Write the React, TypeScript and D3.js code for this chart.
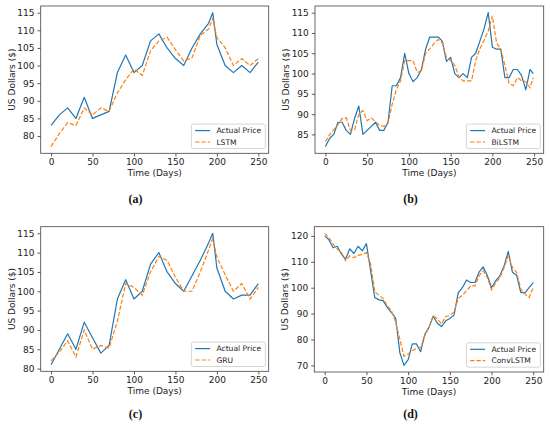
import React, { useEffect, useRef } from "react";
import * as d3 from "d3";

// sampling days
const daysTen = [0, 10, 20, 30, 40, 50, 60, 70, 80, 90, 100, 110, 120, 130, 140, 150, 160, 170, 180, 190, 195, 200, 210, 220, 230, 240, 250];
const daysFiveB = [0, 5, 10, 15, 20, 25, 30, 35, 40, 45, 50, 55, 60, 65, 70, 75, 80, 85, 90, 95, 100, 105, 110, 115, 120, 125, 130, 135, 140, 145, 150, 155, 160, 165, 170, 175, 180, 185, 190, 195, 200, 205, 210, 215, 220, 225, 230, 235, 240, 245, 249];
const daysFiveD = [0, 5, 10, 15, 20, 25, 30, 35, 40, 45, 50, 55, 60, 65, 70, 75, 80, 85, 90, 95, 100, 105, 110, 115, 120, 125, 130, 135, 140, 145, 150, 155, 160, 165, 170, 175, 180, 185, 190, 195, 200, 205, 210, 215, 220, 225, 230, 235, 240, 245, 250];

// (a) LSTM
const actualA = [83, 86, 88, 85, 91, 85, 86, 87, 98, 103, 98, 100, 107, 109, 105, 102, 100, 105, 109, 112, 115, 106, 100, 98, 100, 98, 101];
const lstmA = [77, 80.7, 83.8, 83, 88, 86, 88, 87, 92.2, 96, 99, 97.2, 104.2, 107, 108, 104.5, 101.3, 102.2, 108.5, 110.4, 113.3, 108, 105, 100, 102, 100, 102];

// (b) BiLSTM
const actualB = [82, 84, 85, 88, 88, 86, 85, 89, 92, 85, 86, 87, 88, 86, 86, 88, 97, 97, 99, 105, 100, 98, 99, 101, 106, 109, 109, 109, 108, 103, 104, 100, 99, 100, 99, 104, 105, 108, 111, 115, 106.5, 106, 106, 99, 99, 101, 101, 99.5, 96, 101, 100];
const bilstmB = [83.2, 84.9, 86.2, 87.4, 88.9, 89.1, 85.9, 86.2, 89.9, 90.9, 88.4, 89.1, 88.1, 87.2, 87, 87.8, 92.4, 96.1, 98.2, 103.2, 103.2, 103.2, 100.3, 100.7, 104.9, 106.1, 107.4, 108.4, 107.5, 104, 103.2, 102, 99.2, 98.2, 98.2, 98.2, 103.2, 106.1, 108.2, 110.5, 114.2, 107.6, 106, 102, 97.6, 97, 99, 98.2, 98, 96.5, 99];

// (c) GRU
const actualC = [81, 85, 89, 85, 92, 88, 84, 86, 98, 103, 98, 100, 107, 110, 105, 102, 100, 104, 108, 112.5, 115, 106, 100, 98, 99, 99, 102];
const gruC = [82, 84.3, 87.2, 83, 90, 85, 86, 85.3, 92.3, 102, 101, 99, 105, 109, 108, 103.6, 100, 100, 105, 110.7, 113.6, 108.8, 104.3, 100, 102, 98, 101];

// (d) ConvLSTM
const actualD = [120, 118.5, 115.4, 116, 113, 111, 115, 113.2, 116, 114.2, 117, 106.5, 96.2, 95.3, 95, 92.4, 90.4, 88.3, 75, 70, 72.2, 78.3, 78.3, 75.3, 82, 84.7, 89, 86.3, 85, 87.2, 88.1, 89.4, 98, 100, 103, 102, 102, 106, 108, 104.6, 100, 102.7, 104.6, 108.4, 114, 106, 104.8, 98.2, 98, 100, 102];
const convD = [121, 119.4, 116.8, 114.9, 113.6, 110.4, 112.3, 111.6, 112.5, 112.9, 113.6, 109.1, 98.4, 97.1, 95.8, 93, 91.1, 86.6, 80.2, 73.5, 74.4, 75.7, 76.6, 76.9, 81.5, 84.7, 89.2, 87.9, 86, 88.9, 89.2, 90.7, 95.8, 97.1, 98.8, 100.7, 100.7, 104.6, 106.5, 103.9, 99.2, 101.8, 103.9, 107.8, 112.3, 107.8, 105.9, 99.5, 97.5, 96.2, 100.1];

const xTicks = [0, 50, 100, 150, 200, 250];
const yTicksA = [80, 85, 90, 95, 100, 105, 110, 115];
const yTicksB = [85, 90, 95, 100, 105, 110, 115];
const yTicksD = [70, 80, 90, 100, 110, 120];

const panels = [
  { tag: "(a)", model: "LSTM", days: daysTen, actual: actualA, pred: lstmA, yTicks: yTicksA, ox: 0, frame: [40.7, 6, 268.7, 153.3], titleY: 202.5 },
  { tag: "(b)", model: "BiLSTM", days: daysFiveB, actual: actualB, pred: bilstmB, yTicks: yTicksB, ox: 275, frame: [315, 6, 543.7, 153.3], titleY: 202.5 },
  { tag: "(c)", model: "GRU", days: daysTen, actual: actualC, pred: gruC, yTicks: yTicksA, ox: 0, frame: [40.7, 226.7, 268.7, 371.3], titleY: 417.5 },
  { tag: "(d)", model: "ConvLSTM", days: daysFiveD, actual: actualD, pred: convD, yTicks: yTicksD, ox: 275, frame: [314.3, 226.7, 543.7, 372], titleY: 417.5 },
];

const BLUE = "#1f77b4";
const ORANGE = "#ff7f0e";
const FONT = "DejaVu Sans, sans-serif";

function withMargin(lo, hi) {
  const m = (hi - lo) * 0.05;
  return [lo - m, hi + m];
}

export default function App() {
  const ref = useRef(null);

  useEffect(() => {
    const svg = d3.select(ref.current);
    svg.selectAll("*").remove();

    panels.forEach((p) => {
      const [x0, y0, x1, y1] = p.frame;
      const all = p.actual.concat(p.pred);
      const x = d3.scaleLinear().domain(withMargin(d3.min(p.days), d3.max(p.days))).range([x0, x1]);
      const y = d3.scaleLinear().domain(withMargin(d3.min(all), d3.max(all))).range([y1, y0]);

      const g = svg.append("g");

      const line = d3
        .line()
        .x((d, i) => x(p.days[i]))
        .y((d) => y(d));

      g.append("path")
        .datum(p.actual)
        .attr("fill", "none")
        .attr("stroke", BLUE)
        .attr("stroke-width", 1.2)
        .attr("stroke-linejoin", "round")
        .attr("d", line);

      g.append("path")
        .datum(p.pred)
        .attr("fill", "none")
        .attr("stroke", ORANGE)
        .attr("stroke-width", 1.2)
        .attr("stroke-dasharray", "4.4,1.9")
        .attr("d", line);

      // axes
      const ax = g
        .append("g")
        .attr("transform", `translate(0,${y1})`)
        .call(d3.axisBottom(x).tickValues(xTicks).tickSize(3.2).tickPadding(2.5).tickFormat(d3.format("d")));
      const ay = g
        .append("g")
        .attr("transform", `translate(${x0},0)`)
        .call(d3.axisLeft(y).tickValues(p.yTicks).tickSize(3.2).tickPadding(3).tickFormat(d3.format("d")));
      [ax, ay].forEach((a) => {
        a.select(".domain").remove();
        a.selectAll("line").attr("stroke", "#333").attr("stroke-width", 0.8);
        a.selectAll("text").attr("font-family", FONT).attr("font-size", 9).attr("fill", "#222");
      });

      g.append("rect")
        .attr("x", x0)
        .attr("y", y0)
        .attr("width", x1 - x0)
        .attr("height", y1 - y0)
        .attr("fill", "none")
        .attr("stroke", "#444")
        .attr("stroke-width", 0.8);

      // labels
      g.append("text")
        .attr("x", (x0 + x1) / 2)
        .attr("y", y1 + 23)
        .attr("text-anchor", "middle")
        .attr("font-family", FONT)
        .attr("font-size", 9)
        .attr("fill", "#222")
        .text("Time (Days)");

      g.append("text")
        .attr("transform", `translate(${x0 - 29},${(y0 + y1) / 2}) rotate(-90)`)
        .attr("text-anchor", "middle")
        .attr("dominant-baseline", "central")
        .attr("font-family", FONT)
        .attr("font-size", 9)
        .attr("fill", "#222")
        .text("US Dollars ($)");

      g.append("text")
        .attr("x", p.ox + 135.5)
        .attr("y", p.titleY)
        .attr("text-anchor", "middle")
        .attr("font-family", "Liberation Serif, serif")
        .attr("font-weight", "bold")
        .attr("font-size", 12)
        .attr("fill", "#111")
        .text(p.tag);

      // legend
      const row2 = y1 - 11.3;
      const row1 = row2 - 11.4;
      const lx = x1 - 3.3 - 74;
      const leg = g.append("g");
      leg.append("rect")
        .attr("x", lx)
        .attr("y", row1 - 6.5)
        .attr("width", 74)
        .attr("height", row2 - row1 + 13)
        .attr("rx", 2)
        .attr("fill", "white")
        .attr("fill-opacity", 0.8)
        .attr("stroke", "#cccccc")
        .attr("stroke-width", 0.8);
      [
        { label: "Actual Price", color: BLUE, dash: null, yy: row1 },
        { label: p.model, color: ORANGE, dash: "4.4,1.9", yy: row2 },
      ].forEach((e) => {
        leg.append("line")
          .attr("x1", lx + 3.7)
          .attr("x2", lx + 18.7)
          .attr("y1", e.yy)
          .attr("y2", e.yy)
          .attr("stroke", e.color)
          .attr("stroke-width", 1.2)
          .attr("stroke-dasharray", e.dash);
        leg.append("text")
          .attr("x", lx + 25)
          .attr("y", e.yy)
          .attr("dominant-baseline", "central")
          .attr("font-family", FONT)
          .attr("font-size", 7.6)
          .attr("fill", "#222")
          .text(e.label);
      });
    });
  }, []);

  return (
    <div style={{ position: "absolute", left: 0, top: 0 }}>
      <svg ref={ref} width={550} height={428} style={{ display: "block", background: "white" }}></svg>
    </div>
  );
}
